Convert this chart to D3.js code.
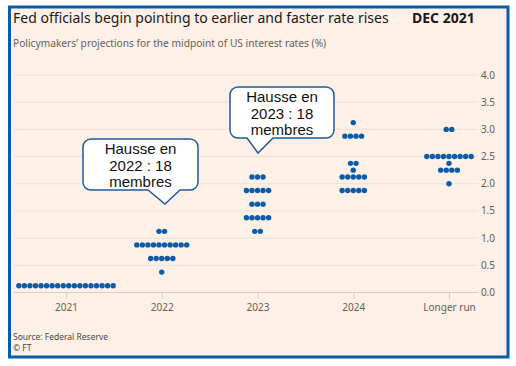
<!DOCTYPE html>
<html>
<head>
<meta charset="utf-8">
<script src="https://cdn.jsdelivr.net/npm/d3@7"></script>
<style>
  body { margin: 0; background: #fff; }
  svg { display: block; }
</style>
</head>
<body>
<div id="chart"></div>
<script>
// data (Dec 2021 SEP), [rate midpoint, number of dots]
const categories = ["2021", "2022", "2023", "2024", "Longer run"];
const dots2021 = [[0.125, 18]];
const dots2022 = [[1.125, 2], [0.875, 10], [0.625, 5], [0.375, 1]];
const dots2023 = [[2.125, 3], [1.875, 5], [1.625, 3], [1.375, 5], [1.125, 2]];
const dots2024 = [[3.125, 1], [2.875, 4], [2.375, 2], [2.25, 1], [2.125, 5], [1.875, 5]];
const dotsLonger = [[3.0, 2], [2.5, 9], [2.375, 1], [2.25, 4], [2.0, 1]];
const yTicks = [0, 0.5, 1, 1.5, 2, 2.5, 3, 3.5, 4];

const allDots = [dots2021, dots2022, dots2023, dots2024, dotsLonger];

const width = 516, height = 366;
const blue = "#0d5aa7";
const grey = "#66605c";

const svg = d3.select("#chart").append("svg")
  .attr("width", width)
  .attr("height", height);

// frame
svg.append("rect")
  .attr("x", 9.5).attr("y", 7)
  .attr("width", 498.5).attr("height", 350)
  .attr("fill", "#fdf0e6")
  .attr("stroke", "#0b5ca8")
  .attr("stroke-width", 3);

const x = d3.scalePoint().domain(categories).range([66, 449]);
const y = d3.scaleLinear().domain([0, 4]).range([292.5, 75]);

// title + subtitle
svg.append("text")
  .attr("x", 13).attr("y", 23)
  .attr("font-family", "Noto Sans, sans-serif")
  .attr("font-size", 14)
  .attr("fill", "#1a1817")
  .text("Fed officials begin pointing to earlier and faster rate rises");

svg.append("text")
  .attr("x", 412).attr("y", 23)
  .attr("font-family", "Noto Sans, sans-serif")
  .attr("font-size", 14)
  .attr("font-weight", "bold")
  .attr("fill", "#1a1817")
  .text("DEC 2021");

svg.append("text")
  .attr("x", 13).attr("y", 47)
  .attr("font-family", "Noto Sans, sans-serif")
  .attr("font-size", 10.2)
  .attr("fill", grey)
  .text("Policymakers\u2019 projections for the midpoint of US interest rates (%)");

// y grid + labels on the right
const grid = svg.append("g");
grid.selectAll("line")
  .data(yTicks)
  .join("line")
  .attr("x1", 14).attr("x2", 478)
  .attr("y1", d => y(d)).attr("y2", d => y(d))
  .attr("stroke", d => d === 0 ? "#d8cec5" : "#ebe1d8")
  .attr("stroke-width", 1);

grid.selectAll("text")
  .data(yTicks)
  .join("text")
  .attr("x", 495)
  .attr("y", d => y(d))
  .attr("dy", "0.35em")
  .attr("text-anchor", "end")
  .attr("font-family", "Noto Sans, sans-serif")
  .attr("font-size", 10)
  .attr("fill", grey)
  .text(d => d3.format(".1f")(d));

// x axis
const xAxis = svg.append("g")
  .attr("transform", "translate(0,293)")
  .call(d3.axisBottom(x).tickSize(6).tickPadding(5));
xAxis.select(".domain").remove();
xAxis.selectAll(".tick line").attr("stroke", "#d8cec5");
xAxis.selectAll(".tick text")
  .attr("font-family", "Noto Sans, sans-serif")
  .attr("font-size", 10)
  .attr("fill", grey);

// dots
const step = 5.55;
categories.forEach((c, ci) => {
  const pts = [];
  allDots[ci].forEach(([v, n]) => {
    for (let i = 0; i < n; i++) {
      pts.push({ cx: x(c) + (i - (n - 1) / 2) * step, cy: y(v) });
    }
  });
  svg.append("g").selectAll("circle")
    .data(pts)
    .join("circle")
    .attr("cx", d => d.cx)
    .attr("cy", d => d.cy)
    .attr("r", 2.7)
    .attr("fill", blue);
});

// callout boxes
function callout(x0, y0, w, h, r, t1, t2, tipX, tipY, lines) {
  const p = d3.path();
  p.moveTo(x0 + r, y0);
  p.lineTo(x0 + w - r, y0);
  p.arcTo(x0 + w, y0, x0 + w, y0 + r, r);
  p.lineTo(x0 + w, y0 + h - r);
  p.arcTo(x0 + w, y0 + h, x0 + w - r, y0 + h, r);
  p.lineTo(t2, y0 + h);
  p.lineTo(tipX, tipY);
  p.lineTo(t1, y0 + h);
  p.lineTo(x0 + r, y0 + h);
  p.arcTo(x0, y0 + h, x0, y0 + h - r, r);
  p.lineTo(x0, y0 + r);
  p.arcTo(x0, y0, x0 + r, y0, r);
  p.closePath();

  const g = svg.append("g");
  g.append("path")
    .attr("d", p.toString())
    .attr("fill", "#fff")
    .attr("stroke", "#1f5a9a")
    .attr("stroke-width", 1.5);
  g.selectAll("text")
    .data(lines)
    .join("text")
    .attr("x", x0 + w / 2)
    .attr("y", (d, i) => y0 + 15 + i * 16.5)
    .attr("text-anchor", "middle")
    .attr("font-family", "Liberation Sans, Arial, sans-serif")
    .attr("font-size", 15)
    .attr("fill", "#111")
    .text(d => d);
}

callout(83, 139, 115, 51, 8, 148, 180, 165, 204, ["Hausse en", "2022 : 18", "membres"]);
callout(230, 87, 104, 51, 8, 247, 273, 258, 153, ["Hausse en", "2023 : 18", "membres"]);

// source
svg.append("text")
  .attr("x", 13).attr("y", 340)
  .attr("font-family", "Noto Sans, sans-serif")
  .attr("font-size", 8.5)
  .attr("fill", "#4d4845")
  .text("Source: Federal Reserve");
svg.append("text")
  .attr("x", 13).attr("y", 351)
  .attr("font-family", "Noto Sans, sans-serif")
  .attr("font-size", 8.5)
  .attr("fill", "#4d4845")
  .text("\u00a9 FT");
</script>
</body>
</html>
